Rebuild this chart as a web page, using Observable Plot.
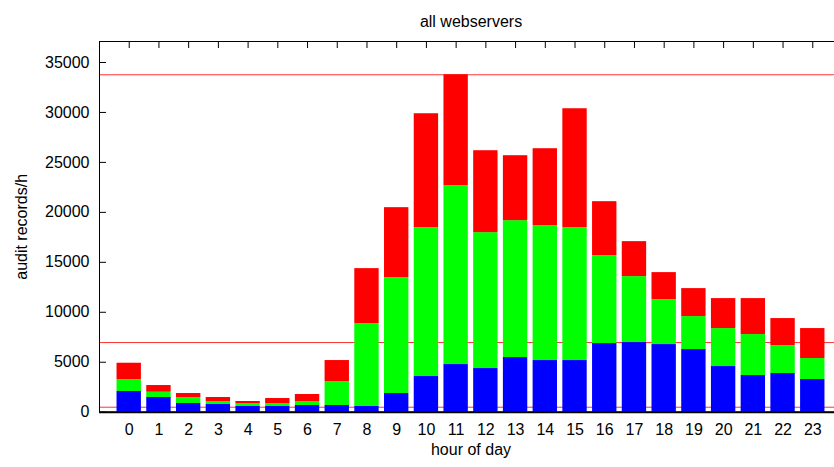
<!DOCTYPE html>
<html>
<head>
<meta charset="utf-8">
<script src="https://cdn.jsdelivr.net/npm/d3@7"></script>
<script src="https://cdn.jsdelivr.net/npm/@observablehq/plot@0.6"></script>
<style>
  html, body { margin: 0; padding: 0; overflow: hidden; background: #fff; }
  #wrap { width: 834px; height: 467px; overflow: hidden; }
  #wrap svg { font-family: "Liberation Sans", Arial, sans-serif; max-width: none !important; height: 467px !important; }
</style>
</head>
<body>
<div id="wrap"></div>
<script>
// ---- data ----
const hours = [0,1,2,3,4,5,6,7,8,9,10,11,12,13,14,15,16,17,18,19,20,21,22,23];
const seriesNames = ["series 1", "series 2", "series 3"];
const series1 = [2070,1470,870,770,570,570,670,670,570,1870,3570,4770,4370,5470,5170,5170,6870,6970,6770,6270,4570,3670,3870,3270];
const series2 = [1200,530,600,300,300,300,400,2400,8300,11600,14900,17900,13600,13700,13500,13300,8800,6600,4500,3300,3800,4100,2800,2100];
const series3 = [1630,670,400,400,200,500,700,2100,5500,7000,11400,11100,8200,6500,7700,11900,5400,3500,2700,2800,3000,3600,2700,3000];
const refLines = [33770, 6970, 500];
const yTicks = [0,5000,10000,15000,20000,25000,30000,35000];
const title = "all webservers";
const xLabel = "hour of day";
const yLabel = "audit records/h";

const values = [series1, series2, series3];
const data = [];
hours.forEach((h, i) => {
  seriesNames.forEach((s, j) => data.push({hour: h, series: s, value: values[j][i]}));
});

const W = 842, H = 467, ML = 99, MR = 0, MT = 41, MB = 55.3;
const FW = W - ML - MR, FH = H - MT - MB, TL = 7;

const chart = Plot.plot({
  width: W,
  height: H,
  marginLeft: ML,
  marginRight: MR,
  marginTop: MT,
  marginBottom: MB,
  style: {fontSize: "16px", fontFamily: "'Liberation Sans', Arial, sans-serif", color: "#000", background: "#fff", maxWidth: "none"},
  x: {domain: [-1, 24], axis: null},
  y: {domain: [0, 37100], axis: null},
  color: {domain: seriesNames, range: ["#0000ff", "#00ff00", "#ff0000"]},
  marks: [
    Plot.ruleY(refLines, {stroke: "#ff3333", strokeWidth: 1}),
    // inward ticks
    Plot.tickX(hours, {x: d => d, stroke: "#000", insetBottom: FH - TL}),
    Plot.tickX(hours, {x: d => d, stroke: "#000", insetTop: FH - TL}),
    Plot.tickY(yTicks, {y: d => d, stroke: "#000", insetRight: FW - TL}),
    Plot.tickY(yTicks, {y: d => d, stroke: "#000", insetLeft: FW - TL}),
    Plot.rectY(data, {x1: d => d.hour - 0.41, x2: d => d.hour + 0.41, y: "value", fill: "series"}),
    Plot.frame({stroke: "#000", strokeWidth: 1}),
    Plot.ruleY([0], {stroke: "#000", strokeWidth: 2}),
    Plot.axisX(hours, {anchor: "bottom", tickSize: 0, tickPadding: 11, tickFormat: d => String(d), label: null, fontSize: 16}),
    Plot.axisY(yTicks, {anchor: "left", tickSize: 0, tickPadding: 10, tickFormat: "d", label: null, fontSize: 16}),
    Plot.text([title], {frameAnchor: "top", dy: -25.4, fontSize: 16}),
    Plot.text([xLabel], {frameAnchor: "bottom", dy: 42.5, fontSize: 16}),
    Plot.text([yLabel], {frameAnchor: "left", textAnchor: "middle", dx: -78, rotate: -90, fontSize: 16})
  ]
});
document.getElementById("wrap").appendChild(chart);
</script>
</body>
</html>
